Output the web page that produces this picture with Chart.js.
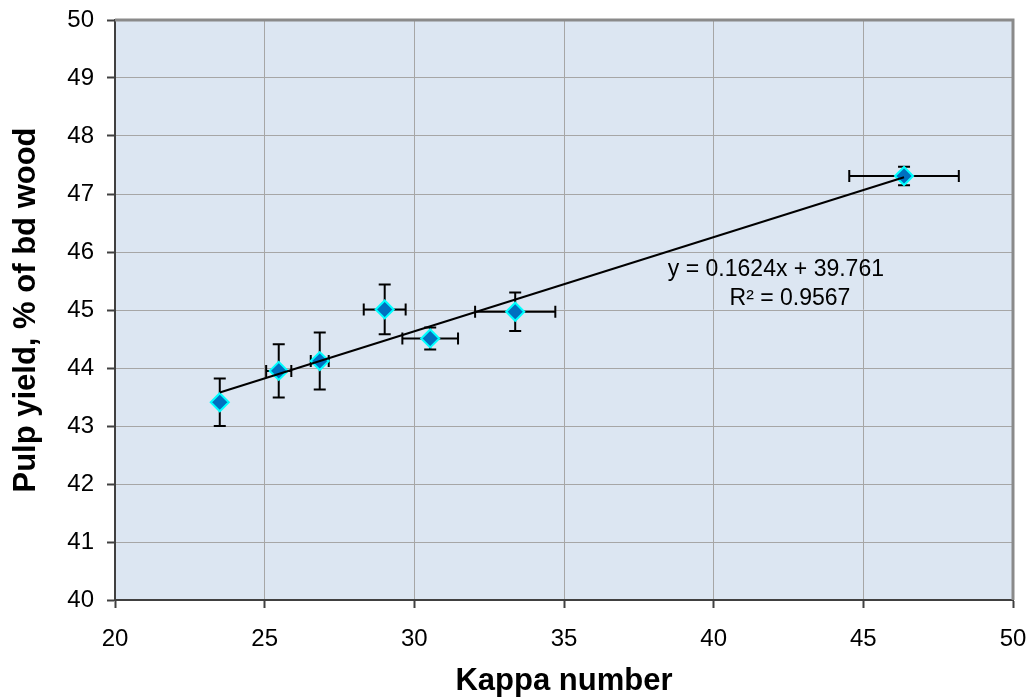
<!DOCTYPE html>
<html>
<head>
<meta charset="utf-8">
<title>Pulp yield vs Kappa number</title>
<script src="https://cdn.jsdelivr.net/npm/chart.js@4/dist/chart.umd.min.js"></script>
<style>
  html, body { margin: 0; padding: 0; background: #fff; }
  #wrap { width: 1030px; height: 700px; }
</style>
</head>
<body>
<div id="wrap"><canvas id="yieldChart" width="1030" height="700"></canvas></div>
<script>
// Kappa number and pulp yield for each cook, with error bar half-widths
const kappa     = [23.5, 25.47, 26.84, 29.01, 30.53, 33.37, 46.36];
const pulpYield = [43.41, 43.95, 44.12, 45.01, 44.51, 44.97, 47.31];
const kappaErr  = [0, 0.42, 0.30, 0.70, 0.93, 1.34, 1.83];
const yieldErr  = [0.41, 0.46, 0.49, 0.43, 0.19, 0.33, 0.16];

// linear trendline from the fitted equation
const slope = 0.1624;
const intercept = 39.761;
const r2 = 0.9567;

const xTicks = [20, 25, 30, 35, 40, 45, 50];
const yTicks = [40, 41, 42, 43, 44, 45, 46, 47, 48, 49, 50];

const FONT = "'Liberation Sans', Arial, sans-serif";

const points = kappa.map((k, i) => ({ x: k, y: pulpYield[i] }));
const xMin = Math.min(...kappa);
const xMax = Math.max(...kappa);
const trend = [
    { x: xMin, y: slope * xMin + intercept },
    { x: xMax, y: slope * xMax + intercept }
];

// light blue plot area plus grey frame on top and right
const plotArea = {
    id: 'plotArea',
    beforeDraw(chart) {
        const { ctx, chartArea: a } = chart;
        ctx.save();
        ctx.fillStyle = '#dce6f2';
        ctx.fillRect(a.left, a.top, a.right - a.left, a.bottom - a.top);
        ctx.restore();
    },
    beforeDatasetsDraw(chart) {
        const { ctx, chartArea: a } = chart;
        ctx.save();
        ctx.strokeStyle = '#8a8a8a';
        ctx.lineWidth = 3;
        ctx.beginPath();
        ctx.moveTo(a.left, a.top);
        ctx.lineTo(a.right, a.top);
        ctx.lineTo(a.right, a.bottom);
        ctx.stroke();
        ctx.restore();
    }
};

// error bars in both directions, drawn under the markers
const errorBars = {
    id: 'errorBars',
    beforeDatasetsDraw(chart) {
        const { ctx, scales: { x, y } } = chart;
        const cap = 6;
        ctx.save();
        ctx.strokeStyle = '#000';
        ctx.lineWidth = 2;
        kappa.forEach((k, i) => {
            const px = x.getPixelForValue(k);
            const py = y.getPixelForValue(pulpYield[i]);
            if (yieldErr[i] > 0) {
                const top = y.getPixelForValue(pulpYield[i] + yieldErr[i]);
                const bot = y.getPixelForValue(pulpYield[i] - yieldErr[i]);
                ctx.beginPath();
                ctx.moveTo(px, top); ctx.lineTo(px, bot);
                ctx.moveTo(px - cap, top); ctx.lineTo(px + cap, top);
                ctx.moveTo(px - cap, bot); ctx.lineTo(px + cap, bot);
                ctx.stroke();
            }
            if (kappaErr[i] > 0) {
                const lft = x.getPixelForValue(k - kappaErr[i]);
                const rgt = x.getPixelForValue(k + kappaErr[i]);
                ctx.beginPath();
                ctx.moveTo(lft, py); ctx.lineTo(rgt, py);
                ctx.moveTo(lft, py - cap); ctx.lineTo(lft, py + cap);
                ctx.moveTo(rgt, py - cap); ctx.lineTo(rgt, py + cap);
                ctx.stroke();
            }
        });
        ctx.restore();
    }
};

// trendline equation and R² label
const equationLabel = {
    id: 'equationLabel',
    afterDatasetsDraw(chart) {
        const { ctx, scales: { x, y } } = chart;
        ctx.save();
        ctx.fillStyle = '#000';
        ctx.font = '23px ' + FONT;
        ctx.textAlign = 'center';
        ctx.textBaseline = 'alphabetic';
        ctx.fillText('y = ' + slope + 'x + ' + intercept, x.getPixelForValue(42.08), y.getPixelForValue(45.59));
        ctx.fillText('R² = ' + r2, x.getPixelForValue(42.55), y.getPixelForValue(45.09));
        ctx.restore();
    }
};

new Chart(document.getElementById('yieldChart'), {
    type: 'scatter',
    data: {
        datasets: [
            {
                label: 'Trend',
                type: 'line',
                data: trend,
                borderColor: '#000',
                borderWidth: 2,
                pointRadius: 0,
                fill: false,
                order: 0
            },
            {
                label: 'Pulp yield',
                data: points,
                pointStyle: 'rectRot',
                pointRadius: 9,
                pointHoverRadius: 9,
                backgroundColor: '#0070c0',
                borderColor: '#00ffff',
                borderWidth: 2,
                order: 1
            }
        ]
    },
    options: {
        responsive: false,
        animation: false,
        layout: { padding: { left: 0, right: 17, top: 20, bottom: 0 } },
        plugins: {
            legend: { display: false },
            tooltip: { enabled: false }
        },
        scales: {
            x: {
                type: 'linear',
                min: 20,
                max: 50,
                afterBuildTicks: (s) => { s.ticks = xTicks.map(v => ({ value: v })); },
                afterFit: (s) => { s.height = 100; s.paddingLeft = 0; s.paddingRight = 0; },
                ticks: { color: '#000', font: { family: FONT, size: 24 }, padding: 17 },
                grid: { color: '#a6a6a6', lineWidth: 1, tickLength: 8, tickColor: '#404040', tickWidth: 2 },
                border: { color: '#404040', width: 2 },
                title: {
                    display: true,
                    text: 'Kappa number',
                    color: '#000',
                    font: { family: FONT, size: 31, weight: 'bold' },
                    padding: { top: 0, bottom: 0 }
                }
            },
            y: {
                type: 'linear',
                min: 40,
                max: 50,
                afterBuildTicks: (s) => { s.ticks = yTicks.map(v => ({ value: v })); },
                afterFit: (s) => { s.width = 115; s.paddingTop = 0; s.paddingBottom = 0; },
                ticks: { color: '#000', font: { family: FONT, size: 24 }, padding: 13 },
                grid: { color: '#a6a6a6', lineWidth: 1, tickLength: 8, tickColor: '#404040', tickWidth: 2 },
                border: { color: '#404040', width: 2 },
                title: {
                    display: true,
                    text: 'Pulp yield, % of bd wood',
                    color: '#000',
                    font: { family: FONT, size: 31, weight: 'bold' },
                    padding: { top: 8, bottom: 0 }
                }
            }
        }
    },
    plugins: [plotArea, errorBars, equationLabel]
});
</script>
</body>
</html>
